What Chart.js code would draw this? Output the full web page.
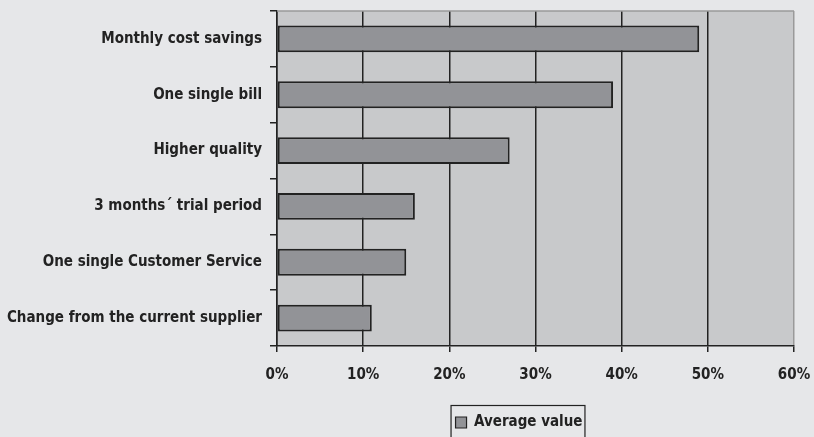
<!DOCTYPE html>
<html>
<head>
<meta charset="utf-8">
<script src="https://cdn.jsdelivr.net/npm/chart.js@4/dist/chart.umd.min.js"></script>
<style>
  html, body { margin: 0; padding: 0; background: #e6e7e9; overflow: hidden; }
  #wrap { width: 814px; height: 460px; }
</style>
</head>
<body>
<div id="wrap"><canvas id="c" width="814" height="460"></canvas></div>
<script>
const categories = [
  "Monthly cost savings",
  "One single bill",
  "Higher quality",
  "3 months\u00b4 trial period",
  "One single Customer Service",
  "Change from the current supplier"
];
const averageValue = [49, 39, 27, 16, 15, 11];
const seriesName = "Average value";
const xTicks = [0, 10, 20, 30, 40, 50, 60];

const FONT = { family: '"Liberation Sans Narrow", "DejaVu Sans Condensed", "Liberation Sans", sans-serif', size: 15, weight: 'bold' };
const INK = '#222222';

const decor = {
  id: 'decor',
  beforeDraw(chart) {
    const { ctx, chartArea: a } = chart;
    ctx.save();
    ctx.fillStyle = '#c8c9cb';
    ctx.fillRect(a.left, a.top, a.right - a.left, a.bottom - a.top);
    ctx.restore();
  },
  afterLayout(chart) {
    const lg = chart.legend;
    if (!lg) return;
    const d = 519 - (lg.left + lg.right) / 2;
    lg.left += d; lg.right += d;
  },
  afterDraw(chart) {
    const { ctx, chartArea: a } = chart;
    ctx.save();
    ctx.strokeStyle = '#9a9a9a';
    ctx.lineWidth = 1.5;
    ctx.beginPath();
    ctx.moveTo(a.left, a.top);
    ctx.lineTo(a.right, a.top);
    ctx.stroke();
    const lg = chart.legend;
    if (lg && lg.legendHitBoxes && lg.legendHitBoxes.length) {
      const h = lg.legendHitBoxes[0];
      ctx.strokeStyle = INK;
      ctx.lineWidth = 1.2;
      ctx.strokeRect(h.left - 4.5, h.top - 9.5, h.width + 7, h.height + 40);
    }
    ctx.restore();
  }
};

new Chart(document.getElementById('c'), {
  type: 'bar',
  data: {
    labels: categories,
    datasets: [{
      label: seriesName,
      data: averageValue,
      backgroundColor: '#929397',
      borderColor: INK,
      borderWidth: 2,
      borderSkipped: false,
      barPercentage: 0.96,
      categoryPercentage: 0.5
    }]
  },
  options: {
    indexAxis: 'y',
    responsive: false,
    animation: false,
    layout: { padding: { top: 11, right: 20, left: 0, bottom: 20 } },
    plugins: {
      legend: {
        position: 'bottom',
        labels: {
          color: INK,
          font: FONT,
          boxWidth: 11,
          boxHeight: 11,
          padding: 10,
          generateLabels(chart) {
            const ds = chart.data.datasets[0];
            return [{ text: ds.label, fillStyle: ds.backgroundColor, strokeStyle: INK, lineWidth: 1.2, datasetIndex: 0, fontColor: INK }];
          }
        }
      },
      tooltip: { enabled: false }
    },
    scales: {
      x: {
        type: 'linear',
        min: 0, max: 60,
        afterBuildTicks(s) { s.ticks = xTicks.map(v => ({ value: v })); },
        afterFit(s) { s.height = 59; s.paddingLeft = 0; s.paddingRight = 0; },
        ticks: { color: INK, font: FONT, padding: 14, callback: v => v + '%' },
        grid: {
          color: ctx => (ctx.index === 6 ? '#9a9a9a' : INK),
          lineWidth: 1.5,
          tickColor: INK,
          tickLength: 6,
          drawTicks: true
        },
        border: { color: INK, width: 1.5 }
      },
      y: {
        afterFit(s) { s.width = 277; s.paddingTop = 0; s.paddingBottom = 0; },
        ticks: { color: INK, font: FONT, padding: 8 },
        grid: { drawOnChartArea: false, drawTicks: true, tickLength: 7, color: INK, lineWidth: 1.5, offset: true },
        border: { color: INK, width: 1.5 }
      }
    }
  },
  plugins: [decor]
});
</script>
</body>
</html>
